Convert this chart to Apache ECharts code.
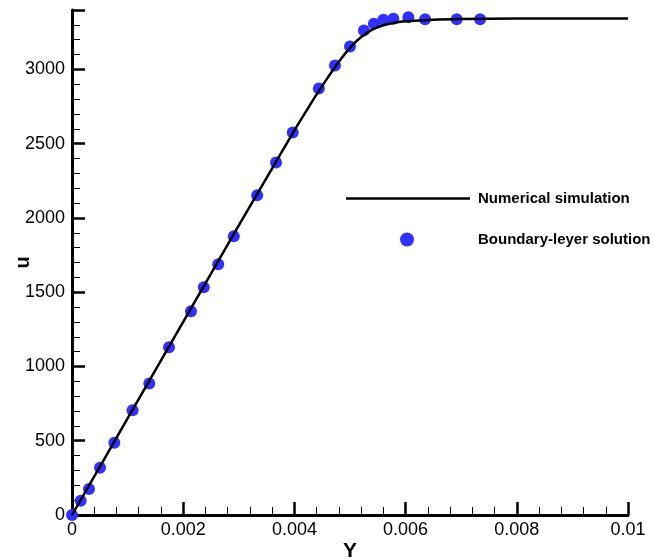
<!DOCTYPE html>
<html>
<head>
<meta charset="utf-8">
<script src="https://cdn.jsdelivr.net/npm/echarts@6/dist/echarts.min.js"></script>
<style>
html,body{margin:0;padding:0;background:#fff;}
#chart{width:654px;height:560px;}
</style>
</head>
<body>
<div id="chart"></div>
<script>
// Numerical simulation curve (Y, u)
var simY = [0, 0.001, 0.002, 0.003, 0.0035, 0.004, 0.0042, 0.0044, 0.0046, 0.0048, 0.005, 0.0052, 0.0054, 0.0056, 0.0058, 0.006, 0.0065, 0.007, 0.008, 0.01];
var simU = [0, 650, 1300, 1950, 2270, 2590, 2712, 2832, 2945, 3052, 3145, 3218, 3268, 3297, 3314, 3324, 3335, 3339, 3342, 3343];
// Boundary-layer solution points (Y, u)
var blY = [0, 0.000156, 0.000306, 0.000504, 0.000761, 0.00109, 0.00139, 0.001745, 0.00214, 0.00237, 0.00263, 0.00291, 0.00333, 0.00367, 0.00397, 0.00444, 0.00473, 0.0050, 0.00525, 0.00543, 0.0056, 0.00578, 0.00605, 0.00635, 0.00692, 0.00734];
var blU = [0, 96, 175, 318, 486, 706, 886, 1130, 1372, 1534, 1688, 1877, 2152, 2374, 2576, 2872, 3027, 3154, 3262, 3307, 3334, 3341, 3352, 3338, 3338, 3338];
var seriesNames = ['Numerical simulation', 'Boundary-leyer solution'];
var xTickValues = [0, 0.002, 0.004, 0.006, 0.008, 0.01];
var xTickLabels = ['0', '0.002', '0.004', '0.006', '0.008', '0.01'];
var yTickValues = [0, 500, 1000, 1500, 2000, 2500, 3000];
var yTickLabels = ['0', '500', '1000', '1500', '2000', '2500', '3000'];

var simData = simY.map(function (x, i) { return [x, simU[i]]; });
var blData = blY.map(function (x, i) { return [x, blU[i]]; });

function lookup(values, labels, v) {
  for (var i = 0; i < values.length; i++) {
    if (Math.abs(values[i] - v) < 1e-9 * (1 + Math.abs(v))) return labels[i];
  }
  return '';
}

var chart = echarts.init(document.getElementById('chart'));
var font = 'Liberation Sans, Arial, Helvetica, sans-serif';
chart.setOption({
  animation: false,
  backgroundColor: '#ffffff',
  grid: { left: 72, right: 26, top: 10, bottom: 45, containLabel: false, outerBoundsMode: 'none' },
  legend: [
    {
      data: [{ name: seriesNames[0], icon: 'rect', itemStyle: { color: '#000' } }],
      left: 346, top: 191, padding: 0,
      itemWidth: 124, itemHeight: 2.5, symbolKeepAspect: false,
      textStyle: { fontFamily: font, fontWeight: 'bold', fontSize: 15, color: '#000', padding: [0, 0, 0, 3] }
    },
    {
      data: [{ name: seriesNames[1], icon: 'circle' }],
      left: 400, top: 232, padding: 0,
      itemWidth: 14, itemHeight: 14,
      textStyle: { fontFamily: font, fontWeight: 'bold', fontSize: 15, color: '#000', padding: [0, 0, 0, 59] }
    }
  ],
  xAxis: {
    type: 'value', min: 0, max: 0.01, interval: 0.002,
    name: 'Y', nameLocation: 'middle', nameGap: 26, nameMoveOverlap: false,
    nameTextStyle: { fontFamily: font, fontWeight: 'bold', fontSize: 21, color: '#000' },
    axisLine: { show: true, onZero: false, lineStyle: { color: '#000', width: 3 } },
    axisTick: { show: true, inside: true, length: 13, lineStyle: { color: '#000', width: 2.5 } },
    minorTick: { show: true, splitNumber: 5, length: 8, lineStyle: { color: '#000', width: 1 } },
    splitLine: { show: false },
    axisLabel: {
      margin: 6, fontFamily: font, fontSize: 18, color: '#000',
      formatter: function (v) { return lookup(xTickValues, xTickLabels, v); }
    }
  },
  yAxis: {
    type: 'value', min: 0, max: 3400, interval: 500,
    name: 'u', nameLocation: 'middle', nameGap: 39, nameRotate: 90, nameMoveOverlap: false,
    nameTextStyle: { fontFamily: font, fontWeight: 'bold', fontSize: 20, color: '#000' },
    axisLine: { show: true, onZero: false, lineStyle: { color: '#000', width: 3 } },
    axisTick: { show: true, inside: true, length: 13, lineStyle: { color: '#000', width: 2.5 } },
    minorTick: { show: true, splitNumber: 5, length: 8, lineStyle: { color: '#000', width: 1 } },
    splitLine: { show: false },
    axisLabel: {
      margin: 7, fontFamily: font, fontSize: 18, color: '#000',
      formatter: function (v) { return lookup(yTickValues, yTickLabels, v); }
    }
  },
  series: [
    {
      name: seriesNames[0], type: 'line', data: simData,
      symbol: 'none', smooth: 0.3,
      lineStyle: { color: '#000', width: 2.5 },
      itemStyle: { color: '#000' },
      z: 3
    },
    {
      name: seriesNames[1], type: 'scatter', data: blData,
      symbol: 'circle', symbolSize: 12,
      itemStyle: { color: '#3030ff', opacity: 1 },
      z: 2
    }
  ]
});
</script>
</body>
</html>
